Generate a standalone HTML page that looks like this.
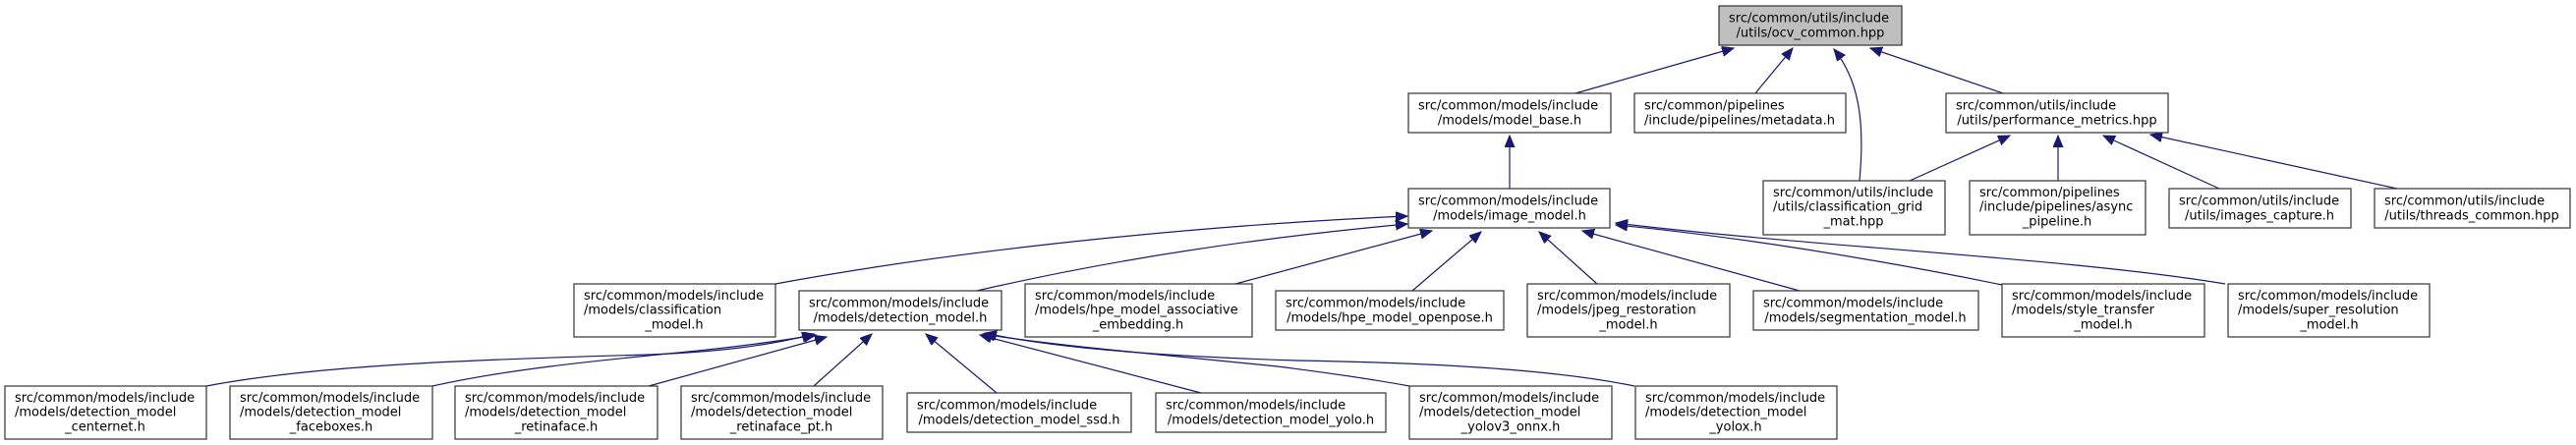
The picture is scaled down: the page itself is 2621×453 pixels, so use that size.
<!DOCTYPE html>
<html><head><meta charset="utf-8"><style>
html,body{margin:0;padding:0;background:#fff;}
svg{display:block;}
text{font-family:"DejaVu Sans","Liberation Sans",sans-serif;font-size:13px;fill:#000;}
.b{fill:#fff;stroke:#333;stroke-width:1.2;}
.e{fill:none;stroke:#191970;stroke-width:1.2;}
.m{text-anchor:middle;}
</style></head><body>
<svg width="2621" height="453" viewBox="0 0 2621 453" xmlns="http://www.w3.org/2000/svg">
<defs>
<marker id="a" markerUnits="userSpaceOnUse" markerWidth="14" markerHeight="12" refX="12" refY="5" orient="auto">
<path d="M0,0 L12,5 L0,10 z" fill="#191970" stroke="#191970"/>
</marker>
</defs>

<!-- edges -->
<path class="e" marker-end="url(#a)" d="M1603,95 L1764,49"/>
<path class="e" marker-end="url(#a)" d="M1786,95 L1824,49"/>
<path class="e" marker-end="url(#a)" d="M1892,184 C1898,120 1890,80 1866,50"/>
<path class="e" marker-end="url(#a)" d="M2038,95 L1903,49"/>
<path class="e" marker-end="url(#a)" d="M1943,184 L2045,138"/>
<path class="e" marker-end="url(#a)" d="M2094,184 L2094,138"/>
<path class="e" marker-end="url(#a)" d="M2258,192 L2140,138"/>
<path class="e" marker-end="url(#a)" d="M2439,192 L2188,137"/>
<path class="e" marker-end="url(#a)" d="M1536,192 L1536,138"/>

<path class="e" marker-end="url(#a)" d="M789,289 C1000,250 1250,228 1432,220"/>
<path class="e" marker-end="url(#a)" d="M994,296 C1150,260 1300,240 1432,228"/>
<path class="e" marker-end="url(#a)" d="M1257,289 L1457,235"/>
<path class="e" marker-end="url(#a)" d="M1437,296 L1507,236"/>
<path class="e" marker-end="url(#a)" d="M1625,289 L1566,236"/>
<path class="e" marker-end="url(#a)" d="M1831,296 L1610,235"/>
<path class="e" marker-end="url(#a)" d="M2037,290 C1900,262 1760,240 1644,229"/>
<path class="e" marker-end="url(#a)" d="M2264,289 C2100,262 1850,252 1644,227"/>

<path class="e" marker-end="url(#a)" d="M210,393 C320,372 480,366 660,361 C740,358 790,350 828,340"/>
<path class="e" marker-end="url(#a)" d="M440,393 C520,375 620,366 700,358 C760,352 800,346 830,341"/>
<path class="e" marker-end="url(#a)" d="M660,393 L841,343"/>
<path class="e" marker-end="url(#a)" d="M828,393 L887,340"/>
<path class="e" marker-end="url(#a)" d="M1014,400 L942,340"/>
<path class="e" marker-end="url(#a)" d="M1222,400 L997,341"/>
<path class="e" marker-end="url(#a)" d="M1434,393 C1380,383 1330,377 1300,373 C1150,358 1060,350 1000,340"/>
<path class="e" marker-end="url(#a)" d="M1663,393 C1600,380 1500,370 1320,367 C1160,362 1060,352 1002,339"/>

<!-- nodes -->
<rect x="1749" y="6" width="186" height="40" fill="#bfbfbf" stroke="#333" stroke-width="1.2"/>
<text x="1759" y="22.5">src/common/utils/include</text>
<text x="1842" y="37.5" class="m">/utils/ocv_common.hpp</text>

<rect class="b" x="1433" y="95" width="206" height="40"/>
<text x="1443" y="111.5">src/common/models/include</text>
<text x="1536" y="126.5" class="m">/models/model_base.h</text>

<rect class="b" x="1663" y="95" width="215" height="40"/>
<text x="1673" y="111.5">src/common/pipelines</text>
<text x="1770" y="126.5" class="m">/include/pipelines/metadata.h</text>

<rect class="b" x="1980" y="95" width="226" height="40"/>
<text x="1990" y="111.5">src/common/utils/include</text>
<text x="2093" y="126.5" class="m">/utils/performance_metrics.hpp</text>

<rect class="b" x="1433" y="192" width="205" height="40"/>
<text x="1443" y="208.5">src/common/models/include</text>
<text x="1536" y="223.5" class="m">/models/image_model.h</text>

<rect class="b" x="1794" y="184" width="185" height="55"/>
<text x="1804" y="200">src/common/utils/include</text>
<text x="1804" y="214.5">/utils/classification_grid</text>
<text x="1886" y="229.5" class="m">_mat.hpp</text>

<rect class="b" x="2004" y="184" width="179" height="55"/>
<text x="2014" y="200">src/common/pipelines</text>
<text x="2014" y="214.5">/include/pipelines/async</text>
<text x="2093" y="229.5" class="m">_pipeline.h</text>

<rect class="b" x="2207" y="192" width="185" height="40"/>
<text x="2217" y="208.5">src/common/utils/include</text>
<text x="2299" y="223.5" class="m">/utils/images_capture.h</text>

<rect class="b" x="2416" y="192" width="199" height="40"/>
<text x="2426" y="208.5">src/common/utils/include</text>
<text x="2515" y="223.5" class="m">/utils/threads_common.hpp</text>

<rect class="b" x="584" y="289" width="205" height="54"/>
<text x="594" y="305">src/common/models/include</text>
<text x="594" y="319.5">/models/classification</text>
<text x="686" y="334.5" class="m">_model.h</text>

<rect class="b" x="813" y="296" width="206" height="40"/>
<text x="823" y="312.5">src/common/models/include</text>
<text x="916" y="327.5" class="m">/models/detection_model.h</text>

<rect class="b" x="1043" y="289" width="231" height="54"/>
<text x="1053" y="305">src/common/models/include</text>
<text x="1053" y="319.5">/models/hpe_model_associative</text>
<text x="1158" y="334.5" class="m">_embedding.h</text>

<rect class="b" x="1298" y="296" width="232" height="40"/>
<text x="1308" y="312.5">src/common/models/include</text>
<text x="1414" y="327.5" class="m">/models/hpe_model_openpose.h</text>

<rect class="b" x="1554" y="289" width="206" height="54"/>
<text x="1564" y="305">src/common/models/include</text>
<text x="1564" y="319.5">/models/jpeg_restoration</text>
<text x="1657" y="334.5" class="m">_model.h</text>

<rect class="b" x="1784" y="296" width="229" height="40"/>
<text x="1794" y="312.5">src/common/models/include</text>
<text x="1898" y="327.5" class="m">/models/segmentation_model.h</text>

<rect class="b" x="2037" y="289" width="206" height="54"/>
<text x="2047" y="305">src/common/models/include</text>
<text x="2047" y="319.5">/models/style_transfer</text>
<text x="2140" y="334.5" class="m">_model.h</text>

<rect class="b" x="2267" y="289" width="205" height="54"/>
<text x="2277" y="305">src/common/models/include</text>
<text x="2277" y="319.5">/models/super_resolution</text>
<text x="2370" y="334.5" class="m">_model.h</text>

<rect class="b" x="5" y="393" width="205" height="54"/>
<text x="15" y="409">src/common/models/include</text>
<text x="15" y="423.5">/models/detection_model</text>
<text x="107" y="438.5" class="m">_centernet.h</text>

<rect class="b" x="234" y="393" width="206" height="54"/>
<text x="244" y="409">src/common/models/include</text>
<text x="244" y="423.5">/models/detection_model</text>
<text x="337" y="438.5" class="m">_faceboxes.h</text>

<rect class="b" x="463" y="393" width="206" height="54"/>
<text x="473" y="409">src/common/models/include</text>
<text x="473" y="423.5">/models/detection_model</text>
<text x="566" y="438.5" class="m">_retinaface.h</text>

<rect class="b" x="693" y="393" width="205" height="54"/>
<text x="703" y="409">src/common/models/include</text>
<text x="703" y="423.5">/models/detection_model</text>
<text x="795" y="438.5" class="m">_retinaface_pt.h</text>

<rect class="b" x="923" y="400" width="228" height="40"/>
<text x="933" y="416.5">src/common/models/include</text>
<text x="1037" y="431.5" class="m">/models/detection_model_ssd.h</text>

<rect class="b" x="1176" y="400" width="234" height="40"/>
<text x="1186" y="416.5">src/common/models/include</text>
<text x="1293" y="431.5" class="m">/models/detection_model_yolo.h</text>

<rect class="b" x="1434" y="393" width="206" height="54"/>
<text x="1444" y="409">src/common/models/include</text>
<text x="1444" y="423.5">/models/detection_model</text>
<text x="1537" y="438.5" class="m">_yolov3_onnx.h</text>

<rect class="b" x="1664" y="393" width="205" height="54"/>
<text x="1674" y="409">src/common/models/include</text>
<text x="1674" y="423.5">/models/detection_model</text>
<text x="1766" y="438.5" class="m">_yolox.h</text>
</svg>
</body></html>
